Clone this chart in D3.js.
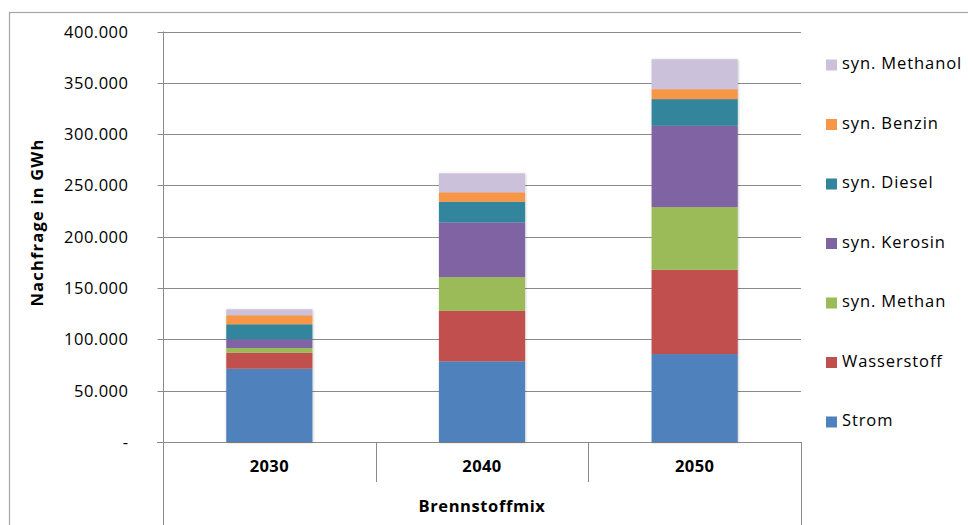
<!DOCTYPE html>
<html>
<head>
<meta charset="utf-8">
<script src="https://cdn.jsdelivr.net/npm/d3@7"></script>
<style>
  html, body { margin: 0; padding: 0; background: #fff; }
  svg { display: block; }
  text { font-family: "Open Sans", "Liberation Sans", sans-serif; fill: #000; }
</style>
</head>
<body>
<svg id="chart" width="968" height="525"></svg>
<script>
// Categories (years) and the stacked fuel series, bottom to top, in GWh
const years = ["2030", "2040", "2050"];
const seriesNames = ["Strom", "Wasserstoff", "syn. Methan", "syn. Kerosin", "syn. Diesel", "syn. Benzin", "syn. Methanol"];
const strom       = [71400, 78600, 85700];
const wasserstoff = [15600, 49300, 82100];
const synMethan   = [4600, 32800, 61100];
const synKerosin  = [8500, 53300, 79200];
const synDiesel   = [14600, 20100, 26000];
const synBenzin   = [8800, 9200, 9700];
const synMethanol = [5800, 18500, 29200];
const yTicks = [0, 50000, 100000, 150000, 200000, 250000, 300000, 350000, 400000];
const seriesColors = ["#4F81BD", "#C0504D", "#9BBB59", "#8064A2", "#31859C", "#F79646", "#CCC1DA"];

const seriesValues = [strom, wasserstoff, synMethan, synKerosin, synDiesel, synBenzin, synMethanol];
const rows = years.map((yr, i) => {
  const r = { year: yr };
  seriesNames.forEach((s, k) => { r[s] = seriesValues[k][i]; });
  return r;
});

const svg = d3.select("#chart");
const plotLeft = 163, plotRight = 801, plotTop = 31.5, plotBottom = 442;
const axisColor = "#8a8a8a";

// Outer chart frame
svg.append("rect")
  .attr("x", 9.5).attr("y", 12.5).attr("width", 1000).attr("height", 600)
  .attr("fill", "none").attr("stroke", "#a6a6a6").attr("stroke-width", 1.2);

const y = d3.scaleLinear().domain([0, 400000]).range([plotBottom, plotTop]);
const x = d3.scaleBand().domain(years).range([plotLeft, plotRight])
  .paddingInner(0.595).paddingOuter(0.2975);

// Horizontal gridlines
svg.append("g").selectAll("line").data(yTicks.filter(d => d > 0)).join("line")
  .attr("x1", plotLeft).attr("x2", plotRight)
  .attr("y1", d => Math.round(y(d)) + 0.5).attr("y2", d => Math.round(y(d)) + 0.5)
  .attr("stroke", axisColor).attr("stroke-width", 1);

// Value axis with German number format, zero shown as a dash
const fmt = d3.formatLocale({ decimal: ",", thousands: ".", grouping: [3], currency: ["", " €"] }).format(",.0f");
const yAxis = d3.axisLeft(y).tickValues(yTicks).tickSize(6).tickPadding(29)
  .tickFormat(d => d === 0 ? "-" : fmt(d));
const gy = svg.append("g").attr("transform", `translate(${plotLeft + 0.5},0)`).call(yAxis);
gy.select(".domain").remove();
gy.selectAll(".tick line").attr("stroke", axisColor);
gy.selectAll(".tick text").attr("font-size", 16.5).attr("letter-spacing", 0.5).attr("fill", "#000");
gy.selectAll(".tick").attr("transform", d => `translate(0,${Math.round(y(d)) + 0.5})`);

// Vertical axis line, continued down through the category block
svg.append("line").attr("x1", plotLeft + 0.5).attr("x2", plotLeft + 0.5)
  .attr("y1", plotTop).attr("y2", 525).attr("stroke", axisColor);
// Category axis line and its separators
svg.append("line").attr("x1", plotLeft - 6).attr("x2", plotRight + 0.5)
  .attr("y1", plotBottom + 0.5).attr("y2", plotBottom + 0.5).attr("stroke", axisColor);
svg.append("line").attr("x1", plotRight + 0.5).attr("x2", plotRight + 0.5)
  .attr("y1", plotBottom).attr("y2", 525).attr("stroke", axisColor);
const step = x.step();
years.slice(1).forEach((yr) => {
  const bx = Math.round(x(yr) + x.bandwidth() / 2 - step / 2) + 0.5;
  svg.append("line").attr("x1", bx).attr("x2", bx)
    .attr("y1", plotBottom).attr("y2", plotBottom + 40).attr("stroke", axisColor);
});

// Soft shadow under the bar segments
const defs = svg.append("defs");
const f = defs.append("filter").attr("id", "shadow")
  .attr("x", "-10%").attr("y", "-10%").attr("width", "120%").attr("height", "120%");
f.append("feDropShadow").attr("dx", 0.6).attr("dy", 0.6).attr("stdDeviation", 1.1)
  .attr("flood-color", "#000").attr("flood-opacity", 0.25);

// Stacked bars
const stack = d3.stack().keys(seriesNames)(rows);
const color = d3.scaleOrdinal().domain(seriesNames).range(seriesColors);
svg.append("g").attr("filter", "url(#shadow)")
  .selectAll("g").data(stack).join("g")
  .attr("fill", d => color(d.key))
  .selectAll("rect").data(d => d).join("rect")
  .attr("x", d => x(d.data.year))
  .attr("width", x.bandwidth())
  .attr("y", d => y(d[1]))
  .attr("height", d => y(d[0]) - y(d[1]));

// Category labels
svg.append("g").selectAll("text").data(years).join("text")
  .attr("x", d => x(d) + x.bandwidth() / 2).attr("y", plotBottom + 26)
  .attr("text-anchor", "middle").attr("dominant-baseline", "middle")
  .attr("font-size", 16.5).attr("font-weight", "bold").attr("letter-spacing", 0.4)
  .text(d => d);

// Axis titles
svg.append("text")
  .attr("x", (plotLeft + plotRight) / 2).attr("y", 508)
  .attr("text-anchor", "middle").attr("dominant-baseline", "middle")
  .attr("font-size", 16.5).attr("font-weight", "bold").attr("letter-spacing", 0.6)
  .text("Brennstoffmix");
svg.append("text")
  .attr("transform", `translate(39,${(131 + 314) / 2}) rotate(-90)`)
  .attr("text-anchor", "middle").attr("dominant-baseline", "middle")
  .attr("font-size", 16.5).attr("font-weight", "bold").attr("letter-spacing", 1.2)
  .text("Nachfrage in GWh");

// Legend, top entry is the last stacked series
const legendOrder = seriesNames.slice().reverse();
const lg = svg.append("g").selectAll("g").data(legendOrder).join("g")
  .attr("transform", (d, i) => `translate(826,${65 + i * 59.5})`);
lg.append("rect").attr("x", 0).attr("y", -5.5).attr("width", 11).attr("height", 11)
  .attr("fill", d => color(d));
lg.append("text").attr("x", 16).attr("y", 0).attr("dominant-baseline", "middle")
  .attr("font-size", 16.5).attr("letter-spacing", 0.9).text(d => d);
</script>
</body>
</html>
